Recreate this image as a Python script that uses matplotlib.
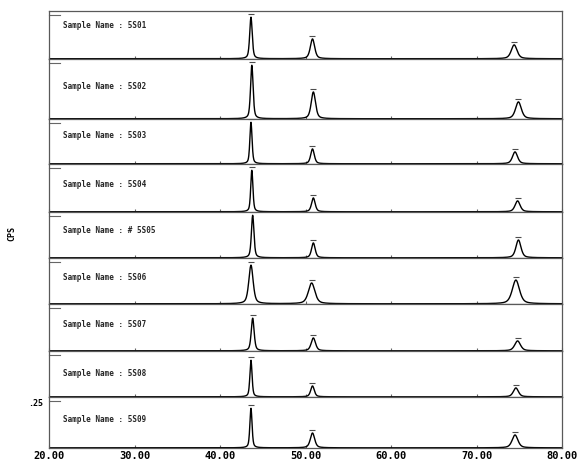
import numpy as np
import matplotlib.pyplot as plt

# sample names shown in each panel (top to bottom)
samples = ['5S01', '5S02', '5S03', '5S04', '# 5S05', '5S06', '5S07', '5S08', '5S09']

# peak positions (2theta), per sample
pos_111 = [43.6, 43.7, 43.6, 43.7, 43.8, 43.6, 43.8, 43.6, 43.6]
pos_200 = [50.8, 50.9, 50.8, 50.9, 50.9, 50.7, 50.9, 50.8, 50.8]
pos_220 = [74.4, 74.9, 74.5, 74.8, 74.9, 74.6, 74.8, 74.6, 74.5]

# peak heights (px above baseline)
h_111 = [42, 54, 42, 42, 43, 39, 33, 37, 40]
h_200 = [20, 27, 15, 14, 15, 21, 13, 11, 15]
h_220 = [14, 17, 12, 11, 18, 24, 10, 9, 13]

# peak widths (fwhm, degrees)
w_111 = [0.35, 0.35, 0.3, 0.3, 0.35, 0.6, 0.4, 0.3, 0.3]
w_200 = [0.6, 0.6, 0.5, 0.5, 0.5, 0.9, 0.6, 0.5, 0.6]
w_220 = [0.8, 0.8, 0.7, 0.7, 0.7, 1.0, 0.8, 0.7, 0.8]

xticks = [20, 30, 40, 50, 60, 70, 80]

# layout: panel heights and label offset from panel top (px)
panel_h = [48, 60, 45, 48, 46, 46, 47, 46, 51]
label_off = [14, 28, 16, 20, 18, 19, 20, 22, 22]


def pv(x, x0, h, w, eta=0.5):
    g = np.exp(-4 * np.log(2) * ((x - x0) / w) ** 2)
    l = 1 / (1 + 4 * ((x - x0) / w) ** 2)
    return h * (eta * l + (1 - eta) * g)


fig = plt.figure(figsize=(5.8, 4.67), dpi=100)
gs = fig.add_gridspec(len(samples), 1, height_ratios=panel_h, hspace=0,
                      left=0.085, right=0.969, top=0.976, bottom=0.04)

x = np.linspace(20, 80, 3000)
axes = []
for i, name in enumerate(samples):
    ax = fig.add_subplot(gs[i])
    axes.append(ax)
    y = (pv(x, pos_111[i], h_111[i], w_111[i]) +
         pv(x, pos_200[i], h_200[i], w_200[i]) +
         pv(x, pos_220[i], h_220[i], w_220[i]))
    ax.plot(x, y, color='black', lw=1.0)
    # peak markers above each peak
    for p, h in zip([pos_111[i], pos_200[i], pos_220[i]], [h_111[i], h_200[i], h_220[i]]):
        ax.plot(p, h + 3, marker='_', ms=4, color='0.3', mew=0.8)
    ax.set_xlim(20, 80)
    ax.set_ylim(-0.5, panel_h[i])
    ax.set_yticks([])
    ax.set_xticks(xticks)
    ax.tick_params(axis='x', direction='in', length=2, width=0.8, color='0.4')
    for s in ax.spines.values():
        s.set_color('0.35')
        s.set_linewidth(0.9)
    # small tick at top left of each panel
    ax.plot([20, 21.2], [panel_h[i] - 4, panel_h[i] - 4], color='0.4', lw=0.8, clip_on=False)
    ax.text(21.6, panel_h[i] - label_off[i], 'Sample Name : ' + name, fontsize=5.5,
            family='DejaVu Sans Mono', fontweight='bold', va='center', ha='left', color='0.15')
    if i < len(samples) - 1:
        ax.set_xticklabels([])
    else:
        ax.set_xticklabels(['%.2f' % t for t in xticks], family='DejaVu Sans Mono',
                           fontweight='bold', fontsize=7.5)
        ax.tick_params(axis='x', pad=2)

axes[-1].text(-0.012, 0.88, '.25', transform=axes[-1].transAxes, ha='right', va='center',
              fontsize=6, family='DejaVu Sans Mono', fontweight='bold')
fig.text(0.02, 0.5, 'CPS', rotation=90, fontsize=6, family='DejaVu Sans Mono',
         fontweight='bold', va='center', ha='center')

fig.savefig('out.png', dpi=100)
